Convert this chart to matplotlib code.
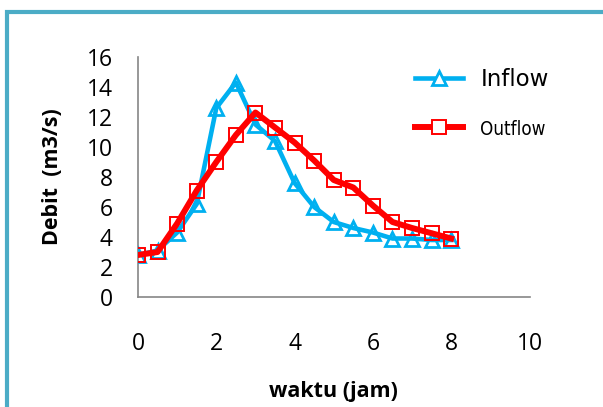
import numpy as np
import matplotlib
matplotlib.use("Agg")
import matplotlib.pyplot as plt
from matplotlib.patches import Rectangle

# hydrograph data
waktu = [0, 0.5, 1, 1.5, 2, 2.5, 3, 3.5, 4, 4.5, 5, 5.5, 6, 6.5, 7, 7.5, 8]
inflow = [2.8, 3.1, 4.3, 6.2, 12.6, 14.3, 11.5, 10.4, 7.6, 6.0, 5.0, 4.6, 4.3, 3.9, 3.9, 3.8, 3.8]
outflow = [2.8, 3.0, 4.9, 7.1, 9.0, 10.8, 12.3, 11.3, 10.3, 9.1, 7.8, 7.3, 6.1, 5.0, 4.6, 4.25, 3.9]
xticks = [0, 2, 4, 6, 8, 10]
yticks = [0, 2, 4, 6, 8, 10, 12, 14, 16]

blue = '#00B0F0'
red = '#FF0000'
grey = '#868686'

plt.rcParams['font.family'] = ['Open Sans', 'DejaVu Sans']

fig = plt.figure(figsize=(6.03, 4.07), dpi=100)
ax = fig.add_axes([138/603, 1-297/407, 391.5/603, 240/407])

ax.plot(waktu, inflow, color=blue, lw=3.3, marker='^', ms=10.5, mfc='none',
        mec=blue, mew=2, label='Inflow', zorder=3)
ax.plot(waktu, outflow, color=red, lw=4.3, marker='s', ms=10, mfc='none',
        mec=red, mew=1.4, label='Outflow', zorder=4)

ax.set_xlim(0, 10)
ax.set_ylim(0, 16)
ax.set_xticks(xticks)
ax.set_yticks(yticks)
ax.tick_params(axis='both', length=0, labelsize=16.5)
ax.tick_params(axis='x', pad=25)
ax.tick_params(axis='y', pad=18)
for s in ['top', 'right']:
    ax.spines[s].set_visible(False)
for s in ['left', 'bottom']:
    ax.spines[s].set_color(grey)
    ax.spines[s].set_linewidth(1.2)

ax.set_xlabel('waktu (jam)', fontsize=15.5, fontweight='bold', va='center')
ax.xaxis.set_label_coords(0.5, -(392-297)/240)
ax.set_ylabel('Debit  (m3/s)', fontsize=15.5, fontweight='bold', va='center')
ax.yaxis.set_label_coords((52-138)/391.5, 0.5)

leg = ax.legend(loc='upper left', bbox_to_anchor=(415/603, 1-68/407),
                bbox_transform=fig.transFigure, frameon=False, fontsize=16.5,
                handlelength=2.1, handletextpad=0.75, labelspacing=1.2,
                borderpad=0, borderaxespad=0)
for h in leg.legend_handles:
    h.set_markerfacecolor('white')
for t in leg.get_texts():
    t.set_family('DejaVu Sans')
leg.get_texts()[1].set_fontsize(13.5)
leg.get_texts()[1].set_fontstretch('condensed')

# teal frame round the chart
fig.patches.append(Rectangle((7/603, -0.2), 1.5, 1-12/407+0.2, transform=fig.transFigure,
                             fill=False, ec='#4BACC6', lw=3))

fig.savefig('out.png', dpi=100)
